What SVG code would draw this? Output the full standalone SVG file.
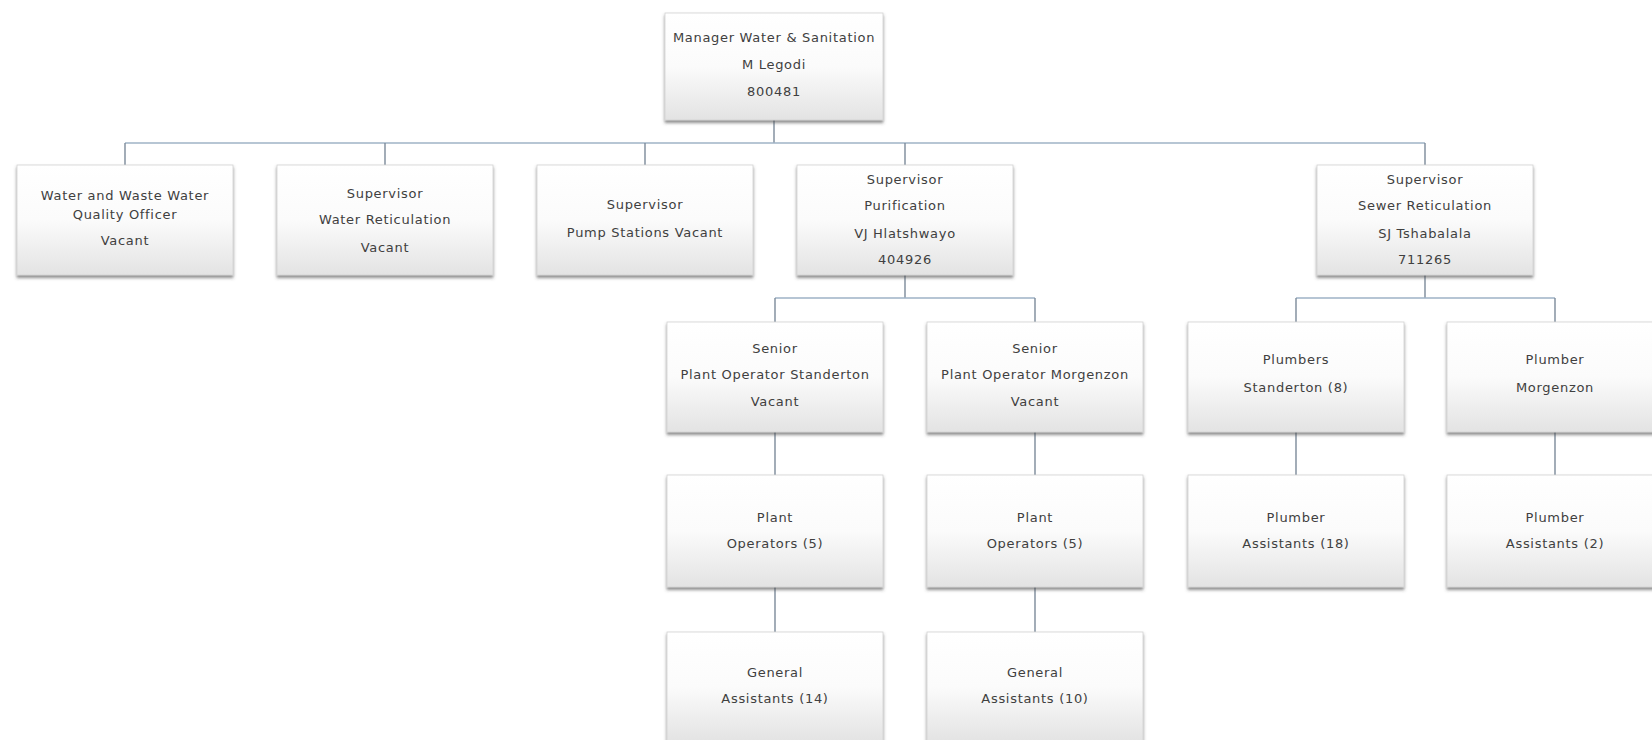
<svg xmlns="http://www.w3.org/2000/svg" width="1652" height="740" viewBox="0 0 1652 740">
  <style>
    .box { fill: url(#boxFill); stroke: #d2d2d2; stroke-width: 0.8; filter: url(#shadow); }
    .lbl { font-family: "DejaVu Sans", "Liberation Sans", sans-serif; font-size: 13px; letter-spacing: 0.7px; fill: #404040; text-anchor: middle; }
    .conn { stroke: #7c8a9a; stroke-width: 1.4; fill: none; }
    .bar { stroke: #9fb3c6; stroke-width: 1.6; fill: none; }
  </style>
  <defs>
    <linearGradient id="boxFill" x1="0" y1="0" x2="0" y2="1">
      <stop offset="0" stop-color="#ffffff"/>
      <stop offset="0.5" stop-color="#fbfbfb"/>
      <stop offset="1" stop-color="#e3e3e3"/>
    </linearGradient>
    <filter id="shadow" x="-5%" y="-5%" width="110%" height="120%">
      <feDropShadow dx="0" dy="2.5" stdDeviation="1.6" flood-color="#4a4a4a" flood-opacity="0.65"/>
    </filter>
  </defs>
  <rect width="1652" height="740" fill="#ffffff"/>

  <!-- connectors -->
  <g id="connectors">
    <path class="conn" d="M774 120 V143"/>
    <path class="bar" d="M125 143 H1425"/>
    <path class="conn" d="M125 143 V165 M385 143 V165 M645 143 V165 M905 143 V165 M1425 143 V165"/>
    <path class="conn" d="M905 275 V298 M1425 275 V298"/>
    <path class="bar" d="M775 298 H1035 M1296 298 H1555"/>
    <path class="conn" d="M775 298 V322 M1035 298 V322 M1296 298 V322 M1555 298 V322"/>
    <path class="conn" d="M775 432 V475 M1035 432 V475 M1296 432 V475 M1555 432 V475"/>
    <path class="conn" d="M775 587 V632 M1035 587 V632"/>
  </g>

  <!-- top -->
  <g id="manager">
    <rect class="box" x="665" y="13" width="218" height="107"/>
    <text class="lbl" x="774" y="42">Manager Water &amp; Sanitation</text>
    <text class="lbl" x="774" y="69">M Legodi</text>
    <text class="lbl" x="774" y="96">800481</text>
  </g>

  <!-- second level -->
  <g id="quality-officer">
    <rect class="box" x="17" y="165" width="216" height="110"/>
    <text class="lbl" x="125" y="200">Water and Waste Water</text>
    <text class="lbl" x="125" y="219">Quality Officer</text>
    <text class="lbl" x="125" y="245">Vacant</text>
  </g>
  <g id="sup-water-reticulation">
    <rect class="box" x="277" y="165" width="216" height="110"/>
    <text class="lbl" x="385" y="198">Supervisor</text>
    <text class="lbl" x="385" y="224">Water  Reticulation</text>
    <text class="lbl" x="385" y="252">Vacant</text>
  </g>
  <g id="sup-pump-stations">
    <rect class="box" x="537" y="165" width="216" height="110"/>
    <text class="lbl" x="645" y="209">Supervisor</text>
    <text class="lbl" x="645" y="237">Pump Stations Vacant</text>
  </g>
  <g id="sup-purification">
    <rect class="box" x="797" y="165" width="216" height="110"/>
    <text class="lbl" x="905" y="184">Supervisor</text>
    <text class="lbl" x="905" y="210">Purification</text>
    <text class="lbl" x="905" y="238">VJ Hlatshwayo</text>
    <text class="lbl" x="905" y="264">404926</text>
  </g>
  <g id="sup-sewer-reticulation">
    <rect class="box" x="1317" y="165" width="216" height="110"/>
    <text class="lbl" x="1425" y="184">Supervisor</text>
    <text class="lbl" x="1425" y="210">Sewer Reticulation</text>
    <text class="lbl" x="1425" y="238">SJ Tshabalala</text>
    <text class="lbl" x="1425" y="264">711265</text>
  </g>

  <!-- third level -->
  <g id="senior-standerton">
    <rect class="box" x="667" y="322" width="216" height="110"/>
    <text class="lbl" x="775" y="353">Senior</text>
    <text class="lbl" x="775" y="379">Plant Operator Standerton</text>
    <text class="lbl" x="775" y="406">Vacant</text>
  </g>
  <g id="senior-morgenzon">
    <rect class="box" x="927" y="322" width="216" height="110"/>
    <text class="lbl" x="1035" y="353">Senior</text>
    <text class="lbl" x="1035" y="379">Plant Operator Morgenzon</text>
    <text class="lbl" x="1035" y="406">Vacant</text>
  </g>
  <g id="plumbers-standerton">
    <rect class="box" x="1188" y="322" width="216" height="110"/>
    <text class="lbl" x="1296" y="364">Plumbers</text>
    <text class="lbl" x="1296" y="392">Standerton (8)</text>
  </g>
  <g id="plumber-morgenzon">
    <rect class="box" x="1447" y="322" width="216" height="110"/>
    <text class="lbl" x="1555" y="364">Plumber</text>
    <text class="lbl" x="1555" y="392">Morgenzon</text>
  </g>

  <!-- fourth level -->
  <g id="operators-standerton">
    <rect class="box" x="667" y="475" width="216" height="112"/>
    <text class="lbl" x="775" y="522">Plant</text>
    <text class="lbl" x="775" y="548">Operators (5)</text>
  </g>
  <g id="operators-morgenzon">
    <rect class="box" x="927" y="475" width="216" height="112"/>
    <text class="lbl" x="1035" y="522">Plant</text>
    <text class="lbl" x="1035" y="548">Operators (5)</text>
  </g>
  <g id="plumber-assistants-standerton">
    <rect class="box" x="1188" y="475" width="216" height="112"/>
    <text class="lbl" x="1296" y="522">Plumber</text>
    <text class="lbl" x="1296" y="548">Assistants (18)</text>
  </g>
  <g id="plumber-assistants-morgenzon">
    <rect class="box" x="1447" y="475" width="216" height="112"/>
    <text class="lbl" x="1555" y="522">Plumber</text>
    <text class="lbl" x="1555" y="548">Assistants (2)</text>
  </g>

  <!-- fifth level -->
  <g id="assistants-standerton">
    <rect class="box" x="667" y="632" width="216" height="110"/>
    <text class="lbl" x="775" y="677">General</text>
    <text class="lbl" x="775" y="703">Assistants (14)</text>
  </g>
  <g id="assistants-morgenzon">
    <rect class="box" x="927" y="632" width="216" height="110"/>
    <text class="lbl" x="1035" y="677">General</text>
    <text class="lbl" x="1035" y="703">Assistants (10)</text>
  </g>
</svg>
